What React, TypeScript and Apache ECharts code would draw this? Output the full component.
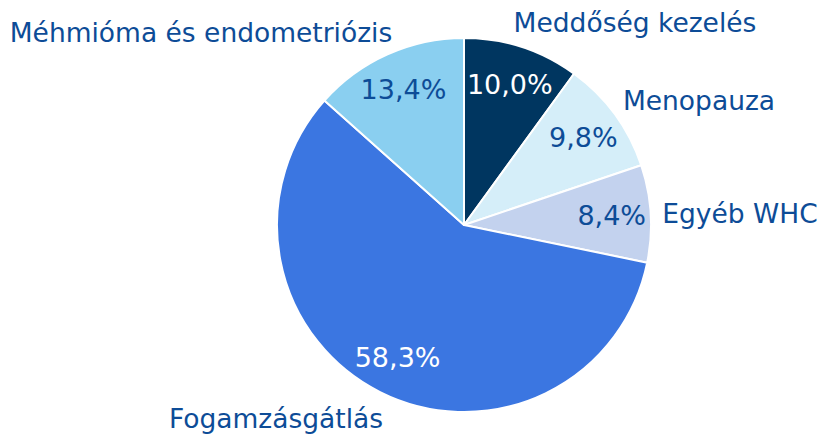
import React, { useEffect, useRef } from "react";
import * as echarts from "echarts";

const CATEGORIES = ["Meddőség kezelés", "Menopauza", "Egyéb WHC", "Fogamzásgátlás", "Méhmióma és endometriózis"];
const VALUES = [10.0, 9.8, 8.4, 58.3, 13.4];
const COLORS = ["#003660", "#d5eef9", "#c3d2ee", "#3b76e1", "#8acff0"];
const PCT_COLORS = ["#ffffff", "#0d4c97", "#0d4c97", "#ffffff", "#0d4c97"];
const NAME_POS = [
  [635, 22],
  [699, 100],
  [740, 213],
  [276, 418],
  [201, 32],
];

const TEXT = "#0d4c97";
const FONT = "DejaVu Sans";

export default function App() {
  const ref = useRef<HTMLDivElement>(null);
  useEffect(() => {
    document.body.style.margin = "0";
    const chart = echarts.init(ref.current!, null, { renderer: "svg" });
    const center = [464, 225];
    const base = CATEGORIES.map((n, i) => ({ name: n, value: VALUES[i] }));
    chart.setOption({
      animation: false,
      backgroundColor: "#ffffff",
      series: [
        {
          type: "pie",
          center,
          radius: 187,
          startAngle: 90,
          clockwise: true,
          silent: true,
          label: { show: false },
          labelLine: { show: false },
          itemStyle: { borderColor: "#ffffff", borderWidth: 2 },
          data: base.map((d, i) => ({ ...d, itemStyle: { color: COLORS[i] } })),
        },
        {
          type: "pie",
          center,
          radius: [103, 187],
          startAngle: 90,
          silent: true,
          itemStyle: { color: "rgba(0,0,0,0)" },
          labelLine: { show: false },
          label: {
            show: true,
            position: "inside",
            fontFamily: FONT,
            fontSize: 27,
            overflow: "none",
            formatter: (p: any) => VALUES[p.dataIndex].toFixed(1).replace(".", ",") + "%",
          },
          data: base.map((d, i) => ({ ...d, label: { color: PCT_COLORS[i] } })),
        },
        {
          type: "pie",
          center,
          radius: 187,
          startAngle: 90,
          silent: true,
          itemStyle: { color: "rgba(0,0,0,0)" },
          labelLine: { show: false },
          label: {
            show: true,
            position: "outside",
            fontFamily: FONT,
            fontSize: 26.5,
            overflow: "none",
            width: 500,
            color: TEXT,
            formatter: "{b}",
          },
          labelLayout: (p: any) => ({
            x: NAME_POS[p.dataIndex][0],
            y: NAME_POS[p.dataIndex][1],
            align: "center",
            verticalAlign: "middle",
          }),
          data: base,
        },
      ],
    });
    return () => chart.dispose();
  }, []);
  return <div ref={ref} style={{ width: 823, height: 435 }} />;
}
